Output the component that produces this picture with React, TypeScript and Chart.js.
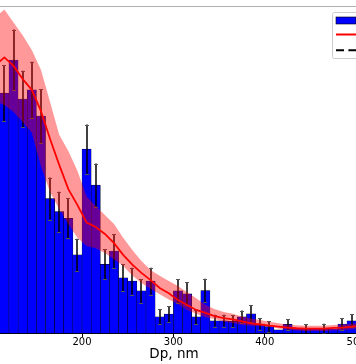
import React, { useEffect, useRef } from 'react';
import { Chart, registerables } from 'chart.js';

Chart.register(...registerables);

// ---- data (bin centres in nm, values in arbitrary units) ----
const DP_CENTERS = [
  105, 115, 125, 135, 145, 155, 165, 175, 185, 195,
  205, 215, 225, 235, 245, 255, 265, 275, 285, 295,
  305, 315, 325, 335, 345, 355, 365, 375, 385, 395,
  405, 415, 425, 435, 445, 455, 465, 475, 485, 495,
  505, 515,
];
const BAR_VALUES = [
  75.0, 73.4, 83.5, 71.6, 74.4, 66.4, 41.2, 37.2, 35.2, 24.0,
  56.3, 45.3, 21.1, 25.2, 17.0, 16.0, 13.0, 16.0, 5.1, 5.9,
  13.0, 12.1, 5.1, 13.1, 3.9, 3.9, 3.7, 5.1, 6.0, 2.9,
  2.1, 1.1, 2.8, 1.4, 1.4, 1.4, 1.6, 1.4, 2.9, 3.9,
  3.5, 2.5,
];
const BAR_ERRORS = [
  8.5, 8.6, 9.3, 8.6, 8.6, 8.2, 6.4, 6.1, 6.1, 4.9,
  7.5, 6.6, 4.6, 5.1, 4.1, 4.1, 3.6, 4.1, 2.3, 2.5,
  3.6, 3.5, 2.2, 3.6, 1.8, 1.8, 1.8, 1.9, 2.6, 1.7,
  1.7, 0, 1.6, 0, 1.4, 0, 1.4, 0, 1.7, 2.0,
  1.8, 1.5,
];
const FIT_LINE = [
  81.9, 84.3, 81.7, 77.7, 74.4, 67.9, 59.4, 51.5, 44.1, 39.2,
  33.9, 32.5, 30.4, 27.6, 24.0, 21.0, 18.5, 16.3, 13.9, 12.3,
  10.2, 8.7, 7.2, 6.3, 5.3, 4.7, 4.3, 3.7, 3.1, 2.8,
  2.4, 2.1, 1.8, 1.6, 1.5, 1.5, 1.5, 1.7, 1.8, 2.1,
  2.3, 2.4,
];
const FIT_UPPER = [
  96.6, 98.9, 95.0, 91.1, 86.6, 80.5, 70.7, 60.7, 55.7, 49.6,
  41.8, 38.9, 36.2, 33.4, 29.2, 25.5, 22.1, 19.4, 17.6, 16.0,
  14.5, 12.6, 10.8, 8.7, 7.5, 6.6, 6.0, 5.2, 4.6, 4.1,
  3.6, 3.1, 2.7, 2.5, 2.4, 2.4, 2.4, 2.6, 2.7, 3.0,
  3.2, 3.4,
];
const FIT_LOWER = [
  71.0, 69.8, 67.6, 64.6, 61.3, 51.1, 43.2, 38.0, 33.4, 29.2,
  26.7, 26.0, 24.6, 22.7, 20.6, 17.7, 15.4, 13.7, 12.0, 10.4,
  9.0, 7.2, 6.0, 5.0, 4.4, 3.7, 3.2, 2.7, 2.4, 2.2,
  2.1, 1.5, 1.2, 0.9, 0.8, 0.8, 0.8, 0.9, 1.1, 1.3,
  1.5, 1.7,
];
const X_TICKS = [200, 300, 400, 500];
const X_TITLE = 'Dp, nm';
const X_MIN = 66.4;
const X_MAX = 534.9;
const Y_MAX = 100;

// ---- layout ----
const CANVAS_W = 440;
const CANVAS_H = 364;
const SHIFT_X = 40;
const BAR_INDEX = 3;

const pts = (arr: number[]) => DP_CENTERS.map((x, i) => ({ x, y: arr[i] }));

const errorBarPlugin = {
  id: 'errorBars',
  afterDatasetDraw(chart: any, args: any) {
    if (args.index !== BAR_INDEX) return;
    const ctx = chart.ctx;
    const ys = chart.scales.y;
    const area = chart.chartArea;
    ctx.save();
    ctx.beginPath();
    ctx.rect(area.left, area.top, area.right - area.left, area.bottom - area.top);
    ctx.clip();
    args.meta.data.forEach((el: any, i: number) => {
      const e = BAR_ERRORS[i];
      if (!e) return;
      const v = BAR_VALUES[i];
      const x = Math.round(el.x);
      const yTop = ys.getPixelForValue(v + e);
      const yBot = ys.getPixelForValue(Math.max(0, v - e));
      ctx.strokeStyle = '#000';
      ctx.lineWidth = 1.5;
      ctx.beginPath();
      ctx.moveTo(x, yTop);
      ctx.lineTo(x, yBot);
      ctx.stroke();
      ctx.strokeStyle = '#555';
      ctx.lineWidth = 1;
      ctx.beginPath();
      ctx.moveTo(x - 2, Math.round(yTop) + 0.5);
      ctx.lineTo(x + 2, Math.round(yTop) + 0.5);
      ctx.moveTo(x - 2, Math.round(yBot) + 0.5);
      ctx.lineTo(x + 2, Math.round(yBot) + 0.5);
      ctx.stroke();
    });
    ctx.restore();
  },
};

const frameLegendPlugin = {
  id: 'frameLegend',
  afterDraw(chart: any) {
    const ctx = chart.ctx;
    const area = chart.chartArea;
    ctx.save();
    // top spine
    ctx.fillStyle = '#b0b0b0';
    ctx.fillRect(0, Math.round(area.top), chart.width, 1);
    // legend frame
    const x0 = Math.round(area.right - 56.5) + 0.5;
    const y0 = Math.round(area.top + 5.5) + 0.5;
    const w = 52;
    const h = 46;
    ctx.beginPath();
    ctx.roundRect(x0, y0, w, h, 2);
    ctx.fillStyle = 'rgba(255,255,255,0.8)';
    ctx.fill();
    ctx.strokeStyle = '#cccccc';
    ctx.lineWidth = 1;
    ctx.stroke();
    const hx = x0 + 3.5;
    // patch
    ctx.fillStyle = '#0000ff';
    ctx.fillRect(hx, y0 + 4.5, 20, 7);
    ctx.strokeStyle = '#000';
    ctx.lineWidth = 0.6;
    ctx.strokeRect(hx, y0 + 4.5, 20, 7);
    // red line
    ctx.strokeStyle = '#ff0000';
    ctx.lineWidth = 2;
    ctx.beginPath();
    ctx.moveTo(hx, y0 + 22);
    ctx.lineTo(hx + 20, y0 + 22);
    ctx.stroke();
    // dashed black
    ctx.strokeStyle = '#000';
    ctx.setLineDash([8, 4.4]);
    ctx.beginPath();
    ctx.moveTo(hx, y0 + 37.8);
    ctx.lineTo(hx + 20, y0 + 37.8);
    ctx.stroke();
    ctx.restore();
  },
};

export default function App() {
  const ref = useRef<HTMLCanvasElement>(null);
  useEffect(() => {
    const canvas = ref.current;
    if (!canvas) return;
    const chart = new Chart(canvas, {
      type: 'bar',
      data: {
        datasets: [
          {
            type: 'line',
            label: 'Fit',
            data: pts(FIT_LINE),
            borderColor: '#ff0000',
            borderWidth: 1.8,
            pointRadius: 0,
            tension: 0,
            fill: false,
            order: 0,
          } as any,
          {
            type: 'line',
            label: 'Fit upper',
            data: pts(FIT_UPPER),
            borderColor: 'rgba(0,0,0,0)',
            borderWidth: 0,
            pointRadius: 0,
            tension: 0,
            fill: '+1',
            backgroundColor: 'rgba(255,0,0,0.4)',
            order: 1,
          } as any,
          {
            type: 'line',
            label: 'Fit lower',
            data: pts(FIT_LOWER),
            borderColor: 'rgba(0,0,0,0)',
            borderWidth: 0,
            pointRadius: 0,
            tension: 0,
            fill: false,
            order: 2,
          } as any,
          {
            type: 'bar',
            label: 'Measured',
            data: pts(BAR_VALUES),
            backgroundColor: '#0000ff',
            borderColor: '#000000',
            borderWidth: 0.5,
            borderSkipped: false,
            barPercentage: 1,
            categoryPercentage: 1,
            order: 3,
          } as any,
        ],
      },
      options: {
        responsive: false,
        animation: false,
        devicePixelRatio: 1,
        layout: { padding: { left: 0, right: CANVAS_W - SHIFT_X - 388, top: 6, bottom: 2.5 } },
        plugins: { legend: { display: false }, tooltip: { enabled: false } },
        scales: {
          x: {
            type: 'linear',
            min: X_MIN,
            max: X_MAX,
            offset: false,
            z: 1,
            afterBuildTicks: (s: any) => {
              s.ticks = X_TICKS.map((v) => ({ value: v }));
            },
            grid: {
              display: true,
              drawOnChartArea: false,
              drawTicks: true,
              tickLength: 3.5,
              color: '#000',
              offset: false,
            },
            border: { display: true, color: '#000', width: 1 },
            ticks: {
              color: '#000',
              padding: 1,
              autoSkip: false,
              maxRotation: 0,
              font: { family: 'DejaVu Sans', size: 10, lineHeight: 0.9 },
            },
            title: {
              display: true,
              text: X_TITLE,
              color: '#000',
              font: { family: 'DejaVu Sans', size: 13.5, lineHeight: 1 },
              padding: { top: 0, bottom: 0 },
            },
          } as any,
          y: { type: 'linear', display: false, min: 0, max: Y_MAX },
        },
      },
      plugins: [errorBarPlugin, frameLegendPlugin],
    } as any);
    return () => chart.destroy();
  }, []);
  return (
    <div
      style={{
        position: 'fixed',
        left: 0,
        top: 0,
        width: 356,
        height: 364,
        overflow: 'hidden',
        background: '#fff',
      }}
    >
      <canvas
        ref={ref}
        width={CANVAS_W}
        height={CANVAS_H}
        style={{ position: 'absolute', left: -SHIFT_X, top: 0, width: CANVAS_W, height: CANVAS_H }}
      />
    </div>
  );
}
